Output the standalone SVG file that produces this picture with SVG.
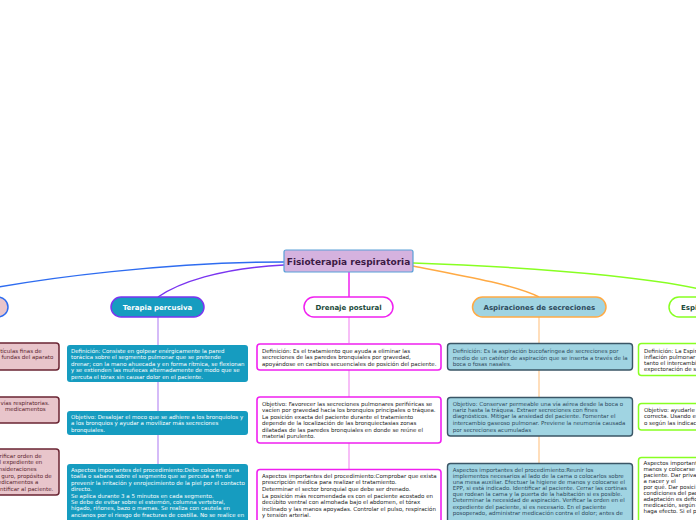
<svg xmlns="http://www.w3.org/2000/svg" width="696" height="520" viewBox="0 0 696 520">
<style>
.t{font-family:"DejaVu Sans",Verdana,sans-serif;font-size:5.5px}
.h{font-family:"DejaVu Sans",Verdana,sans-serif;font-weight:bold;font-size:7px;text-anchor:middle}
.w{fill:#ffffff}
.k{fill:#222222}
.s{fill:#2e4a5c}
.m{fill:#5a1f2d}
.c{fill:none;stroke-width:1.5}
.tp{fill:#169cc0}
.dr{fill:#ffffff;stroke:#f020f0;stroke-width:1.6}
.as{fill:#a0d4e2;stroke:#3a5666;stroke-width:1.4}
.es{fill:#ffffff;stroke:#88ff22;stroke-width:1.5}
.lf{fill:#e8c5cb;stroke:#6a2433;stroke-width:1.5}
</style>
<rect width="696" height="520" fill="#ffffff"/>
<g id="connectors">
<path class="c" stroke="#2e6cf0" d="M284,262 C180,262 40,276 -50,297"/>
<path class="c" stroke="#7a35f0" d="M284,265 C220,268 178,283 158,297"/>
<path class="c" stroke="#f020f0" d="M349,272 L349,297"/>
<path class="c" stroke="#ffaa44" d="M413,266 C465,276 515,285 539,297"/>
<path class="c" stroke="#88ff22" d="M413,263 C560,268 680,280 730,297"/>
<g stroke="#c7a4f6" stroke-width="1.5">
<line x1="158" y1="317" x2="158" y2="345"/>
<line x1="158" y1="382" x2="158" y2="411"/>
<line x1="158" y1="435" x2="158" y2="464"/>
</g>
<g stroke="#f4a8f4" stroke-width="1.5">
<line x1="349" y1="317" x2="349" y2="343"/>
<line x1="349" y1="370" x2="349" y2="397"/>
<line x1="349" y1="443" x2="349" y2="469"/>
</g>
<g stroke="#ffd3a4" stroke-width="1.5">
<line x1="539" y1="317" x2="539" y2="343"/>
<line x1="539" y1="370" x2="539" y2="397"/>
<line x1="539" y1="436" x2="539" y2="463"/>
</g>
</g>
<g id="root">
<rect x="284" y="250" width="129" height="22" rx="2" fill="#d5b2df" stroke="#5aa0d8" stroke-width="1.2"/>
<text x="348.5" y="264.5" font-family="DejaVu Sans,Verdana,sans-serif" font-weight="bold" font-size="9" text-anchor="middle" fill="#3c1a45">Fisioterapia respiratoria</text>
</g>
<g id="left-branch">
<rect x="-80" y="297" width="88" height="20" rx="10" fill="#e8c5cb" stroke="#2e6cf0" stroke-width="1.5"/>
</g>
<g id="left-1">
<rect class="lf" x="-120" y="343" width="179" height="27" rx="3"/>
<text class="t m" text-anchor="end"><tspan x="41.7" y="352.8">tículas finas de</tspan><tspan x="53.3" y="359.2">fundas del aparato</tspan></text>
</g>
<g id="left-2">
<rect class="lf" x="-120" y="397" width="179" height="26" rx="3"/>
<text class="t m" text-anchor="end"><tspan x="49.5" y="405">vías respiratorias.</tspan><tspan x="45.7" y="411.2">medicamentos</tspan></text>
</g>
<g id="left-3">
<rect class="lf" x="-120" y="449" width="179" height="46" rx="3"/>
<text class="t m" text-anchor="end"><tspan x="41.7" y="457.5">rificar orden de</tspan><tspan x="42.3" y="464.2">l expediente en</tspan><tspan x="36.7" y="470.9">nsideraciones</tspan><tspan x="51.7" y="477.6">guro, propósito de</tspan><tspan x="38.3" y="484.3">edicamentos a</tspan><tspan x="53.3" y="491">ntificar al paciente.</tspan></text>
</g>
<g id="terapia">
<rect x="111" y="297" width="93" height="20" rx="10" fill="#169cc0" stroke="#7a35f0" stroke-width="1.5"/>
<text class="h w" x="157.5" y="309.6">Terapia percusiva</text>
</g>
<g id="terapia-def">
<rect class="tp" x="67" y="345" width="181" height="37" rx="3"/>
<text class="t w"><tspan x="71" y="352.6">Definición: Consiste en golpear enérgicamente la pared</tspan><tspan x="71" y="359.1">torácica sobre el segmento pulmonar que se pretende</tspan><tspan x="71" y="365.6">drenar; con la mano ahuecada y en forma rítmica, se flexionan</tspan><tspan x="71" y="372.1">y se extienden las muñecas alternadamente de modo que se</tspan><tspan x="71" y="378.6">percuta el tórax sin causar dolor en el paciente.</tspan></text>
</g>
<g id="terapia-obj">
<rect class="tp" x="67" y="411" width="181" height="24" rx="3"/>
<text class="t w"><tspan x="71" y="419">Objetivo: Desalojar el moco que se adhiere a los bronquiolos y</tspan><tspan x="71" y="425.3">a los bronquios y ayudar a movilizar más secreciones</tspan><tspan x="71" y="431.8">bronquiales.</tspan></text>
</g>
<g id="terapia-asp">
<rect class="tp" x="67" y="464" width="181" height="62" rx="3"/>
<text class="t w"><tspan x="71" y="471.8">Aspectos importantes del procedimiento:Debe colocarse una</tspan><tspan x="71" y="478.3">toalla o sabana sobre el segmento que se percuta a fin de</tspan><tspan x="71" y="484.7">prevenir la irritación y enrojecimiento de la piel por el contacto</tspan><tspan x="71" y="491.1">directo.</tspan><tspan x="71" y="497.6">Se aplica durante 3 a 5 minutos en cada segmento.</tspan><tspan x="71" y="504">Se debe de evitar sobre el esternón, columna vertebral,</tspan><tspan x="71" y="510.4">hígado, riñones, bazo o mamas. Se realiza con cautela en</tspan><tspan x="71" y="516.9">ancianos por el riesgo de fracturas de costilla. No se realice en</tspan></text>
</g>
<g id="drenaje">
<rect x="304" y="297" width="89" height="20" rx="10" fill="#ffffff" stroke="#f020f0" stroke-width="1.5"/>
<text class="h" x="348.5" y="309.6" fill="#1b4a3a">Drenaje postural</text>
</g>
<g id="drenaje-def">
<rect class="dr" x="257" y="344" width="184" height="26" rx="3"/>
<text class="t k"><tspan x="262" y="352.5">Definición: Es el tratamiento que ayuda a eliminar las</tspan><tspan x="262" y="359">secreciones de las paredes bronquiales por gravedad,</tspan><tspan x="262" y="365.6">apoyándose en cambios secuenciales de posición del paciente.</tspan></text>
</g>
<g id="drenaje-obj">
<rect class="dr" x="257" y="397" width="184" height="46" rx="3"/>
<text class="t k"><tspan x="262" y="405.8">Objetivo: Favorecer las secreciones pulmonares periféricas se</tspan><tspan x="262" y="412.2">vacíen por gravedad hacia los bronquios principales o tráquea.</tspan><tspan x="262" y="418.7">La posición exacta del paciente durante el tratamiento</tspan><tspan x="262" y="425.2">depende de la localización de las bronquiectasias zonas</tspan><tspan x="262" y="431.8">dilatadas de las paredes bronquiales en donde se reúne el</tspan><tspan x="262" y="438.4">material purulento.</tspan></text>
</g>
<g id="drenaje-asp">
<rect class="dr" x="257" y="469.5" width="184" height="54" rx="3"/>
<text class="t k"><tspan x="262" y="477.8">Aspectos importantes del procedimiento:Comprobar que exista</tspan><tspan x="262" y="484.4">prescripción médica para realizar el tratamiento.</tspan><tspan x="262" y="490.9">Determinar el sector bronquial que debe ser drenado.</tspan><tspan x="262" y="497.5">La posición más recomendada es con el paciente acostado en</tspan><tspan x="262" y="504">decúbito ventral con almohada bajo el abdomen, el tórax</tspan><tspan x="262" y="510.5">inclinado y las manos apoyadas. Controlar el pulso, respiración</tspan><tspan x="262" y="517.1">y tensión arterial.</tspan></text>
</g>
<g id="aspiraciones">
<rect x="472.5" y="297" width="133.5" height="20" rx="10" fill="#a0d4e2" stroke="#ffaa44" stroke-width="1.5"/>
<text class="h" x="539.3" y="309.6" fill="#2e4a5c">Aspiraciones de secreciones</text>
</g>
<g id="aspiraciones-def">
<rect class="as" x="447.5" y="343.5" width="185" height="26.5" rx="3"/>
<text class="t s"><tspan x="452.7" y="353.3">Definición: Es la aspiración bucofaríngea de secreciones por</tspan><tspan x="452.7" y="359.5">medio de un catéter de aspiración que se inserta a través de la</tspan><tspan x="452.7" y="366">boca o fosas nasales.</tspan></text>
</g>
<g id="aspiraciones-obj">
<rect class="as" x="447.5" y="397.5" width="185" height="38.5" rx="3"/>
<text class="t s"><tspan x="452.7" y="405.8">Objetivo: Conservar permeable una vía aérea desde la boca o</tspan><tspan x="452.7" y="411.9">nariz hasta la tráquea. Extraer secreciones con fines</tspan><tspan x="452.7" y="418.4">diagnósticos. Mitigar la ansiedad del paciente. Fomentar el</tspan><tspan x="452.7" y="425">intercambio gaseoso pulmonar. Previene la neumonía causada</tspan><tspan x="452.7" y="431.6">por secreciones acumuladas</tspan></text>
</g>
<g id="aspiraciones-asp">
<rect class="as" x="447.5" y="463.5" width="185" height="62" rx="3"/>
<text class="t s"><tspan x="452.7" y="471.8">Aspectos importantes del procedimiento:Reunir los</tspan><tspan x="452.7" y="477.9">implementos necesarios al lado de la cama o colocarlos sobre</tspan><tspan x="452.7" y="484">una mesa auxiliar. Efectuar la higiene de manos y colocarse el</tspan><tspan x="452.7" y="490.1">EPP, si está indicado. Identificar al paciente. Cerrar las cortinas</tspan><tspan x="452.7" y="496.2">que rodean la cama y la puerta de la habitación si es posible.</tspan><tspan x="452.7" y="502.3">Determinar la necesidad de aspiración. Verificar la orden en el</tspan><tspan x="452.7" y="508.5">expediente del paciente, si es necesario. En el paciente</tspan><tspan x="452.7" y="514.6">posoperado, administrar medicación contra el dolor; antes de</tspan></text>
</g>
<g id="espi">
<rect x="669" y="297" width="120" height="20" rx="10" fill="#ffffff" stroke="#88ff22" stroke-width="1.5"/>
<text x="681" y="309.6" font-family="DejaVu Sans,Verdana,sans-serif" font-weight="bold" font-size="7" fill="#1b4a3a">Espi</text>
</g>
<g id="espi-def">
<rect class="es" x="638.5" y="343.5" width="120" height="32" rx="3"/>
<text class="t k"><tspan x="644" y="352.5">Definición: La Espir</tspan><tspan x="644" y="358.7">inflación pulmonar</tspan><tspan x="644" y="365">tanto el intercambi</tspan><tspan x="644" y="371.2">expectoración de s</tspan></text>
</g>
<g id="espi-obj">
<rect class="es" x="638.5" y="403.5" width="120" height="26.5" rx="3"/>
<text class="t k"><tspan x="644" y="411.8">Objetivo: ayudarle</tspan><tspan x="644" y="418.4">correcta. Usando e</tspan><tspan x="644" y="425">o según las indicac</tspan></text>
</g>
<g id="espi-asp">
<rect class="es" x="638.5" y="457.5" width="120" height="70" rx="3"/>
<text class="t k"><tspan x="643.5" y="464.5">Aspectos important</tspan><tspan x="643.5" y="470.6">manos y colocarse</tspan><tspan x="643.5" y="476.7">paciente. Dar priva</tspan><tspan x="643.5" y="482.8">a nacer y el</tspan><tspan x="643.5" y="488.9">por qué. Dar posici</tspan><tspan x="643.5" y="495">condiciones del pac</tspan><tspan x="643.5" y="501.1">adaptación es defic</tspan><tspan x="643.5" y="507.2">medicación, según</tspan><tspan x="643.5" y="513.3">haga efecto. Si el p</tspan></text>
</g>
</svg>
